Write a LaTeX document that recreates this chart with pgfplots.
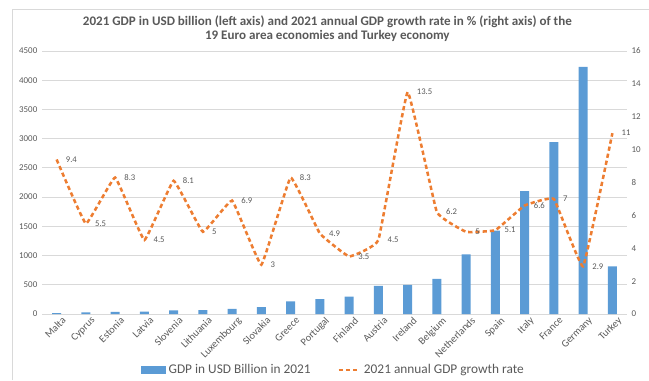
\documentclass[border=0pt]{standalone}
\usepackage{fontspec}
\setmainfont{Carlito}
\usepackage{pgfplots}
\pgfplotsset{compat=1.18}
\definecolor{barblue}{HTML}{5B9BD5}
\definecolor{lineorange}{HTML}{ED7D31}
\definecolor{txtgray}{HTML}{595959}
\definecolor{gridgray}{HTML}{D9D9D9}

\begin{document}
\begin{tikzpicture}
\path[use as bounding box] (0,0) rectangle (486.75pt,285pt);
\draw[gridgray, line width=0.75pt] (9pt,0pt) -- (9pt,278.25pt) -- (486.75pt,278.25pt);
\node[font=\fontsize{9.8}{10}\selectfont\bfseries, text=txtgray, align=center] at (245.5pt,263.6pt)
  {2021 GDP in USD billion (left axis) and 2021 annual GDP growth rate in \% (right axis) of the\\19 Euro area economies and Turkey economy};

\begin{axis}[
  at={(31.5pt,49.5pt)}, anchor=south west,
  width=438.75pt, height=197.25pt, scale only axis,
  xmin=-0.5, xmax=19.5, ymin=0, ymax=4500,
  ytick={0,500,...,4500},
  xtick={0,...,19},
  xticklabels={Malta,Cyprus,Estonia,Latvia,Slovenia,Lithuania,Luxembourg,Slovakia,Greece,Portugal,Finland,Austria,Ireland,Belgium,Netherlands,Spain,Italy,France,Germany,Turkey},
  x tick label style={rotate=45, anchor=north east, font=\fontsize{7.8}{9}\selectfont, text=txtgray, inner sep=1pt, xshift=2.5pt, yshift=-2.5pt},
  ymajorgrids, grid style={gridgray, line width=0.75pt},
  axis line style={draw=none}, major tick length=0pt,
  y tick label style={font=\fontsize{6.7}{8}\selectfont, text=txtgray},
  /pgf/number format/assume math mode=true,
  scaled y ticks=false, yticklabel style={/pgf/number format/1000 sep={}},
  ybar, bar width=6.75pt,
]
\addplot[fill=barblue, draw=none] coordinates {
(0,17) (1,30) (2,37) (3,39) (4,62) (5,66) (6,86) (7,117) (8,215) (9,253)
(10,299) (11,480) (12,498) (13,600) (14,1020) (15,1428) (16,2103) (17,2943) (18,4228) (19,817)
};
\end{axis}

\begin{axis}[
  at={(31.5pt,49.5pt)}, anchor=south west,
  width=438.75pt, height=197.25pt, scale only axis,
  xmin=-0.5, xmax=19.5, ymin=0, ymax=16,
  ytick={0,2,...,16},
  axis x line=none, axis y line*=right,
  axis line style={draw=none}, major tick length=0pt,
  y tick label style={font=\fontsize{6.7}{8}\selectfont, text=txtgray},
  /pgf/number format/assume math mode=true,
  legend columns=2,
  legend style={at={(0.499,-0.213)}, anchor=center, draw=none, fill=none,
    font=\fontsize{10}{11}\selectfont, text=txtgray,
    /tikz/every even column/.append style={column sep=18pt}},
]
\addlegendimage{legend image code/.code={\fill[barblue] (0pt,-2.6pt) rectangle (18pt,2.6pt);}}
\addlegendentry{GDP in USD Billion in 2021}
\addplot[lineorange, line width=1.9pt, dash pattern=on 3.2pt off 2.2pt, smooth, tension=0.15,
  nodes near coords,
  nodes near coords style={anchor=west, xshift=5pt, inner sep=1pt, font=\fontsize{6.5}{8}\selectfont, text=txtgray, solid},
  legend image code/.code={\draw[lineorange, line width=1.9pt, dash pattern=on 3.2pt off 2.2pt] (0pt,0pt) -- (16pt,0pt);}
] coordinates {
(0,9.4) (1,5.5) (2,8.3) (3,4.5) (4,8.1) (5,5) (6,6.9) (7,3) (8,8.3) (9,4.9)
(10,3.5) (11,4.5) (12,13.5) (13,6.2) (14,5) (15,5.1) (16,6.6) (17,7) (18,2.9) (19,11)
};
\addlegendentry{2021 annual GDP growth rate}
\end{axis}
\end{tikzpicture}
\end{document}
